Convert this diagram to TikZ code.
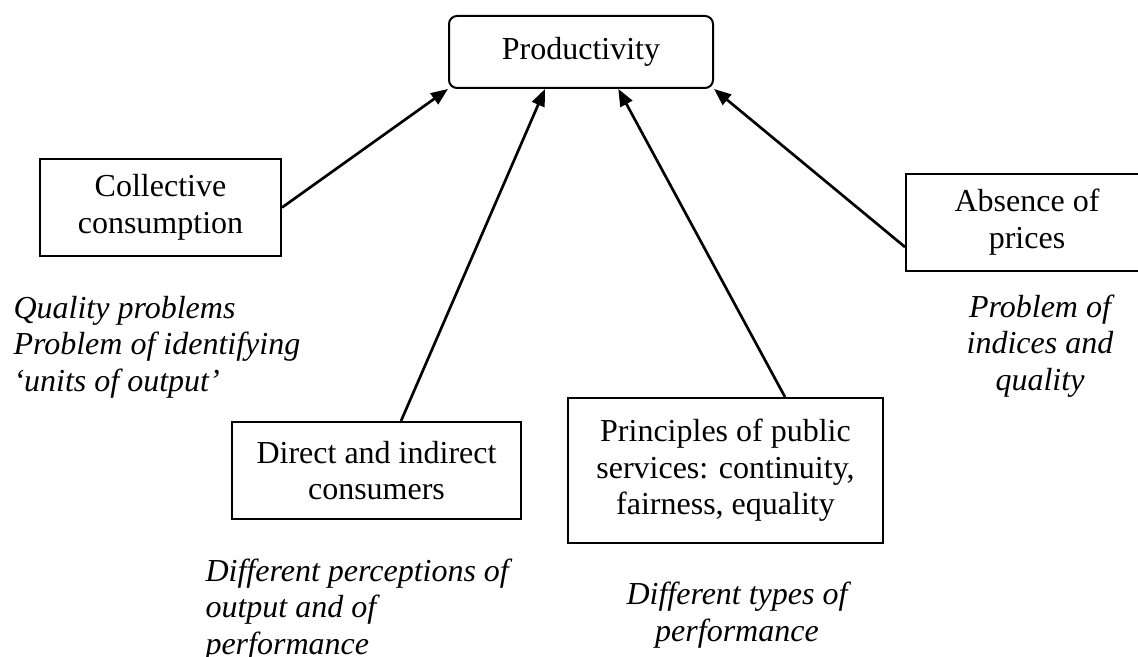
\documentclass[tikz,border=0pt]{standalone}
\usepackage{fontspec}
\setmainfont{Liberation Serif}
\usetikzlibrary{arrows.meta}
\begin{document}
\begin{tikzpicture}[x=0.375pt, y=-0.375pt,
        every node/.style={font=\fontsize{12}{13.7}\selectfont},
        box/.style={draw=black, line width=0.75pt, fill=white, align=center, inner sep=0pt},
        note/.style={font=\fontsize{12}{13.7}\selectfont\itshape, inner sep=0pt},
        arr/.style={line width=1pt, -{Triangle[length=6.4pt, width=5pt]}}]
    \useasboundingbox (0,0) rectangle (1138,657);
    % boxes
    \node (prod) [box, rounded corners=3pt, minimum width=99pt, minimum height=27pt] at (581,52) {Productivity};
    \node (coll) [box, minimum width=90.4pt, minimum height=36.4pt] at (160.5,207.5) {Collective\\consumption};
    \node (direct) [box, minimum width=108.4pt, minimum height=36.4pt] at (376.5,470.5) {Direct and indirect\\consumers};
    \node (princ) [box, minimum width=118.1pt, minimum height=54.4pt] at (725.5,470.5) {Principles of public\\services: continuity,\\fairness, equality};
    \node (absence) [box, anchor=west, minimum width=97.5pt, minimum height=36.4pt] at (905,222.5) {};
    \node (absencetxt) [align=center, inner sep=0pt] at (1027,222) {Absence of\\prices};
    % arrows
    \draw[arr] (coll.east) -- (prod.south west);
    \draw[arr] ([xshift=9.2pt]direct.north) -- ([xshift=-13.5pt]prod.south);
    \draw[arr] ([xshift=22.3pt]princ.north) -- ([xshift=14pt]prod.south);
    \draw[arr] ([yshift=-9.2pt]absence.west) -- (prod.south east);
    % notes
    \node (collnote) [note, anchor=west, align=left] at (13,347) {Quality problems\\Problem of identifying\\`units of output'};
    \node (directnote) [note, anchor=west, align=left] at (205,610) {Different perceptions of\\output and of\\performance};
    \node (princnote) [note, align=center] at (737,615) {Different types of\\performance};
    \node (absencenote) [note, align=center] at (1040,346) {Problem of\\indices and\\quality};
\end{tikzpicture}
\end{document}
